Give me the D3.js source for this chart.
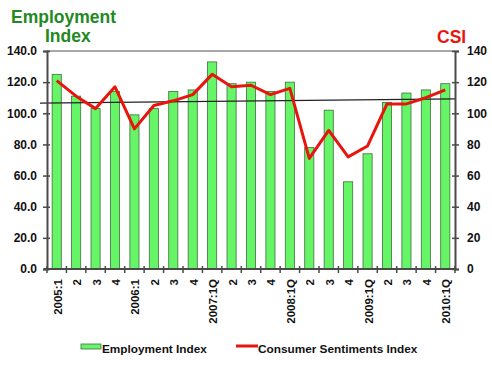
<!DOCTYPE html>
<html lang="en">
<head>
  <meta charset="UTF-8" />
  <title>Employment Index vs CSI</title>
  <script src="https://d3js.org/d3.v7.min.js"></script>
  <style>
    body { margin: 0; background: #fff; font-family: "Liberation Sans", Arial, sans-serif; }
    svg text { font-weight: bold; }
  </style>
</head>
<body>
  <div id="chart"></div>

  <script>
    // quarters (x axis labels)
    const quarters = ["2005:1", "2", "3", "4", "2006:1", "2", "3", "4", "2007:1Q", "2", "3", "4",
      "2008:1Q", "2", "3", "4", "2009:1Q", "2", "3", "4", "2010:1Q"];
    // Employment Index (bars, left axis)
    const employment = [125, 111, 103, 114, 99, 103, 114, 115, 133, 119, 120, 114,
      120, 78, 102, 56, 74, 107, 113, 115, 119];
    // Consumer Sentiments Index (line, right axis)
    const csi = [121, 111, 103, 117, 90, 105, 108, 112, 125, 117, 118, 112,
      116, 71, 89, 72, 79, 106, 106, 110, 115];
    // trend line: value at start and end
    const trend = [106.5, 109.3];
    const leftTicks = [0, 20, 40, 60, 80, 100, 120, 140];

    const width = 492, height = 365;
    const m = { top: 51, right: 37, bottom: 96, left: 47 };

    const svg = d3.select("#chart").append("svg")
      .attr("width", width)
      .attr("height", height);

    const x = d3.scaleBand()
      .domain(d3.range(quarters.length))
      .range([m.left, width - m.right])
      .paddingInner(0.53)
      .paddingOuter(0.265);

    const xEdge = d3.scaleLinear()
      .domain([0, quarters.length])
      .range([m.left, width - m.right]);

    const y = d3.scaleLinear().domain([0, 140]).range([height - m.bottom, m.top]);
    const y2 = d3.scaleLinear().domain([0, 140]).range([height - m.bottom, m.top]);

    const axisColor = "#4a4a4a";

    // top border of plot area
    svg.append("line")
      .attr("x1", m.left).attr("x2", width - m.right)
      .attr("y1", y(140)).attr("y2", y(140))
      .attr("stroke", "#8a8a8a").attr("stroke-width", 1.5);

    // bars
    svg.selectAll("rect.bar")
      .data(employment)
      .join("rect")
      .attr("class", "bar")
      .attr("x", (d, i) => x(i))
      .attr("width", x.bandwidth())
      .attr("y", d => y(d))
      .attr("height", d => y(0) - y(d))
      .attr("fill", "#66f566")
      .attr("stroke", "#3f6f3f")
      .attr("stroke-width", 0.8);

    // trend line
    svg.append("line")
      .attr("x1", m.left - 7).attr("x2", width - m.right)
      .attr("y1", y(trend[0])).attr("y2", y(trend[1]))
      .attr("stroke", "#222").attr("stroke-width", 1.2);

    // CSI line
    const line = d3.line()
      .x((d, i) => x(i) + x.bandwidth() / 2)
      .y(d => y2(d));

    svg.append("path")
      .datum(csi)
      .attr("fill", "none")
      .attr("stroke", "#e8150f")
      .attr("stroke-width", 3)
      .attr("stroke-linejoin", "round")
      .attr("d", line);

    // left axis
    const leftAxis = svg.append("g")
      .attr("transform", `translate(${m.left},0)`)
      .call(d3.axisLeft(y).tickValues(leftTicks).tickFormat(d3.format(".1f")).tickSize(4).tickPadding(6));
    leftAxis.select(".domain").attr("stroke", axisColor).attr("stroke-width", 2);
    leftAxis.selectAll(".tick line").attr("stroke", axisColor).attr("stroke-width", 1.5)
      .attr("x1", 3);
    leftAxis.selectAll(".tick text").attr("font-size", 12).attr("fill", "#111")
      .attr("font-family", "Liberation Sans, Arial, sans-serif");

    // right axis
    const rightAxis = svg.append("g")
      .attr("transform", `translate(${width - m.right},0)`)
      .call(d3.axisRight(y2).tickValues(leftTicks).tickSize(4).tickPadding(8));
    rightAxis.select(".domain").attr("stroke", axisColor).attr("stroke-width", 2);
    rightAxis.selectAll(".tick line").attr("stroke", axisColor).attr("stroke-width", 1.5)
      .attr("x1", -3);
    rightAxis.selectAll(".tick text").attr("font-size", 12).attr("fill", "#111")
      .attr("font-family", "Liberation Sans, Arial, sans-serif");

    // bottom axis with ticks at category boundaries
    const bottom = svg.append("g")
      .attr("transform", `translate(0,${y(0)})`);
    bottom.append("line")
      .attr("x1", m.left - 3).attr("x2", width - m.right)
      .attr("stroke", axisColor).attr("stroke-width", 2);
    bottom.selectAll("line.tk")
      .data(d3.range(quarters.length + 1))
      .join("line")
      .attr("class", "tk")
      .attr("x1", d => xEdge(d)).attr("x2", d => xEdge(d))
      .attr("y1", -3).attr("y2", 4)
      .attr("stroke", axisColor).attr("stroke-width", 1.5);
    bottom.selectAll("text")
      .data(quarters)
      .join("text")
      .attr("transform", (d, i) => `translate(${x(i) + x.bandwidth() / 2 + 1},10) rotate(-90)`)
      .attr("text-anchor", "end")
      .attr("dy", "0.35em")
      .attr("font-size", 11.5)
      .attr("fill", "#111")
      .text(d => d);

    // titles
    svg.append("text").attr("x", 11).attr("y", 23)
      .attr("font-size", 17.5).attr("fill", "#23891f").text("Employment");
    svg.append("text").attr("x", 45).attr("y", 42)
      .attr("font-size", 17.5).attr("fill", "#23891f").text("Index");
    svg.append("text").attr("x", 437).attr("y", 43)
      .attr("font-size", 17.5).attr("fill", "#e8150f").text("CSI");

    // legend
    const lg = svg.append("g").attr("transform", "translate(0,349)");
    lg.append("rect").attr("x", 81).attr("y", -5).attr("width", 20).attr("height", 5)
      .attr("fill", "#66f566").attr("stroke", "#3f6f3f").attr("stroke-width", 0.8);
    lg.append("text").attr("x", 102).attr("y", 4).attr("font-size", 11.8).attr("fill", "#111")
      .text("Employment Index");
    lg.append("line").attr("x1", 236).attr("x2", 258).attr("y1", -3).attr("y2", -3)
      .attr("stroke", "#e8150f").attr("stroke-width", 3);
    lg.append("text").attr("x", 258).attr("y", 4).attr("font-size", 11.8).attr("fill", "#111")
      .text("Consumer Sentiments Index");
  </script>
</body>
</html>
